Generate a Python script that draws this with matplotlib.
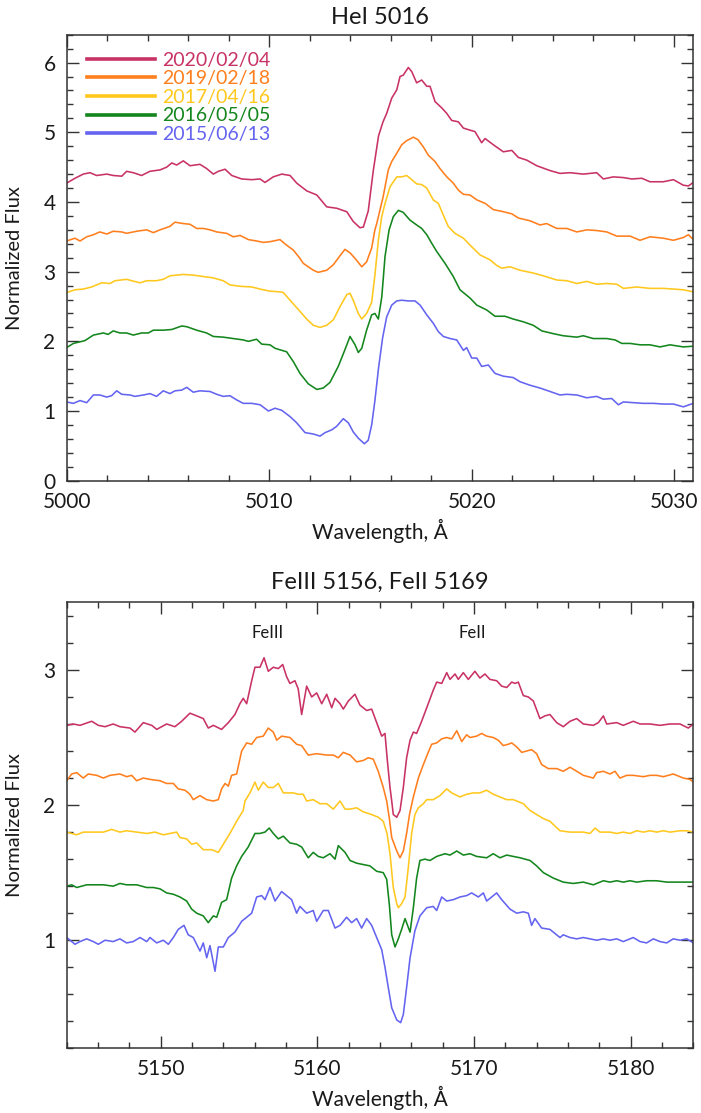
import matplotlib
matplotlib.use("Agg")
import matplotlib.pyplot as plt
from matplotlib.ticker import MultipleLocator

# ---------------- Observation dates and colours ----------------
dates = ["2020/02/04", "2019/02/18", "2017/04/16", "2016/05/05", "2015/06/13"]
colors = ["#C83264", "#FF7F1E", "#FFC81E", "#14861E", "#6464F0"]

# ---------------- HeI 5016 profiles ----------------
he_wl_2020 = [5000.00, 5000.41, 5000.82, 5001.15, 5001.48, 5001.98, 5002.30, 5002.72, 5002.96, 5003.29,
              5003.70, 5004.11, 5004.61, 5004.94, 5005.19, 5005.43, 5005.76, 5006.09, 5006.58, 5006.91,
              5007.24, 5007.49, 5007.82, 5008.15, 5008.64, 5009.14, 5009.55, 5009.79, 5010.20, 5010.62,
              5011.03, 5011.36, 5011.85, 5012.35, 5012.84, 5013.33, 5013.83, 5014.15, 5014.48, 5014.65,
              5014.89, 5015.14, 5015.40, 5015.62, 5015.80, 5016.05, 5016.30, 5016.46, 5016.62, 5016.87,
              5017.04, 5017.28, 5017.53, 5017.78, 5017.94, 5018.19, 5018.52, 5018.77, 5019.01, 5019.34,
              5019.59, 5019.92, 5020.16, 5020.49, 5020.66, 5021.07, 5021.56, 5021.98, 5022.30, 5022.72,
              5023.21, 5023.87, 5024.36, 5024.85, 5025.51, 5026.17, 5026.50, 5026.99, 5027.49, 5027.90,
              5028.40, 5028.80, 5029.46, 5029.96, 5030.45, 5030.70, 5030.94]
he_fx_2020 = [4.27, 4.34, 4.40, 4.42, 4.38, 4.40, 4.38, 4.37, 4.44, 4.42,
              4.38, 4.44, 4.46, 4.50, 4.56, 4.53, 4.59, 4.52, 4.54, 4.48,
              4.40, 4.44, 4.47, 4.38, 4.33, 4.32, 4.33, 4.28, 4.36, 4.40,
              4.38, 4.27, 4.16, 4.10, 3.93, 3.91, 3.86, 3.72, 3.63, 3.64,
              3.87, 4.45, 4.95, 5.15, 5.27, 5.49, 5.61, 5.80, 5.82, 5.93,
              5.87, 5.71, 5.75, 5.66, 5.66, 5.44, 5.35, 5.27, 5.17, 5.15,
              5.06, 5.03, 5.01, 4.85, 4.91, 4.82, 4.72, 4.74, 4.64, 4.60,
              4.52, 4.45, 4.41, 4.42, 4.40, 4.42, 4.33, 4.36, 4.35, 4.33,
              4.34, 4.29, 4.29, 4.32, 4.24, 4.23, 4.28]

he_wl_2019 = [5000.00, 5000.41, 5000.66, 5000.99, 5001.32, 5001.64, 5001.98, 5002.30, 5002.72, 5002.96,
              5003.46, 5003.95, 5004.28, 5004.61, 5005.10, 5005.35, 5005.76, 5006.09, 5006.42, 5006.75,
              5007.08, 5007.41, 5007.90, 5008.23, 5008.56, 5008.97, 5009.38, 5009.71, 5010.04, 5010.53,
              5010.86, 5011.19, 5011.52, 5011.68, 5012.18, 5012.42, 5012.84, 5013.17, 5013.50, 5013.74,
              5013.99, 5014.24, 5014.57, 5014.81, 5015.06, 5015.22, 5015.31, 5015.63, 5015.88, 5016.05,
              5016.30, 5016.54, 5016.79, 5017.12, 5017.36, 5017.61, 5017.86, 5018.19, 5018.43, 5018.77,
              5019.09, 5019.34, 5019.59, 5019.92, 5020.25, 5020.66, 5021.07, 5021.56, 5021.98, 5022.30,
              5022.88, 5023.37, 5023.70, 5024.20, 5024.69, 5025.19, 5025.68, 5026.17, 5026.67, 5027.16,
              5027.82, 5028.31, 5028.80, 5029.46, 5029.96, 5030.45, 5030.70, 5030.94]
he_fx_2019 = [3.44, 3.48, 3.44, 3.50, 3.53, 3.57, 3.54, 3.58, 3.57, 3.55,
              3.58, 3.60, 3.56, 3.60, 3.65, 3.71, 3.69, 3.68, 3.62, 3.62,
              3.60, 3.57, 3.55, 3.50, 3.52, 3.46, 3.44, 3.42, 3.43, 3.46,
              3.38, 3.31, 3.19, 3.12, 3.02, 2.99, 3.02, 3.10, 3.23, 3.32,
              3.27, 3.19, 3.07, 3.14, 3.34, 3.60, 3.69, 4.08, 4.46, 4.58,
              4.70, 4.82, 4.88, 4.93, 4.89, 4.79, 4.67, 4.58, 4.48, 4.36,
              4.27, 4.17, 4.11, 4.10, 4.03, 3.98, 3.89, 3.86, 3.83, 3.77,
              3.73, 3.67, 3.69, 3.62, 3.62, 3.57, 3.60, 3.59, 3.57, 3.51,
              3.51, 3.45, 3.50, 3.48, 3.45, 3.49, 3.53, 3.46]

he_wl_2017 = [5000.00, 5000.41, 5000.82, 5001.23, 5001.73, 5002.14, 5002.39, 5002.96, 5003.21, 5003.62,
              5003.95, 5004.44, 5004.77, 5005.10, 5005.76, 5006.25, 5006.75, 5007.24, 5007.73, 5008.06,
              5008.56, 5009.14, 5009.55, 5010.04, 5010.53, 5010.70, 5011.03, 5011.52, 5011.85, 5012.18,
              5012.51, 5012.84, 5013.17, 5013.50, 5013.83, 5013.99, 5014.15, 5014.40, 5014.57, 5014.81,
              5015.06, 5015.22, 5015.39, 5015.55, 5015.72, 5015.97, 5016.30, 5016.54, 5016.79, 5017.04,
              5017.28, 5017.53, 5017.78, 5018.10, 5018.35, 5018.60, 5018.84, 5019.17, 5019.59, 5019.92,
              5020.41, 5020.90, 5021.23, 5021.48, 5021.89, 5022.39, 5022.72, 5023.04, 5023.54, 5024.20,
              5024.69, 5025.19, 5025.68, 5026.17, 5026.67, 5027.16, 5027.49, 5028.15, 5028.80, 5029.46,
              5029.96, 5030.45, 5030.94]
he_fx_2017 = [2.70, 2.74, 2.75, 2.78, 2.84, 2.83, 2.87, 2.89, 2.87, 2.84,
              2.87, 2.87, 2.89, 2.94, 2.96, 2.95, 2.93, 2.91, 2.87, 2.81,
              2.79, 2.78, 2.75, 2.72, 2.71, 2.70, 2.59, 2.43, 2.32, 2.23,
              2.20, 2.23, 2.31, 2.50, 2.67, 2.69, 2.59, 2.40, 2.32, 2.40,
              2.56, 2.95, 3.45, 3.78, 3.98, 4.22, 4.36, 4.36, 4.38, 4.32,
              4.26, 4.25, 4.20, 4.03, 3.98, 3.81, 3.65, 3.55, 3.48, 3.38,
              3.24, 3.17, 3.09, 3.05, 3.07, 3.02, 3.00, 2.98, 2.94, 2.88,
              2.87, 2.83, 2.86, 2.82, 2.83, 2.82, 2.76, 2.78, 2.76, 2.76,
              2.75, 2.74, 2.71]

he_wl_2016 = [5000.00, 5000.33, 5000.90, 5001.32, 5001.81, 5002.05, 5002.30, 5002.63, 5002.96, 5003.29,
              5003.70, 5004.03, 5004.28, 5004.77, 5005.19, 5005.68, 5005.93, 5006.42, 5006.91, 5007.24,
              5007.73, 5008.23, 5008.72, 5008.97, 5009.38, 5009.63, 5010.04, 5010.29, 5010.86, 5011.19,
              5011.52, 5011.93, 5012.35, 5012.67, 5013.00, 5013.41, 5013.74, 5013.99, 5014.24, 5014.40,
              5014.57, 5014.81, 5015.06, 5015.22, 5015.39, 5015.56, 5015.72, 5015.92, 5016.13, 5016.38,
              5016.62, 5016.95, 5017.28, 5017.53, 5017.78, 5018.02, 5018.27, 5018.68, 5019.09, 5019.42,
              5019.92, 5020.25, 5020.74, 5021.15, 5021.64, 5022.05, 5022.55, 5023.04, 5023.46, 5024.03,
              5024.52, 5025.19, 5025.51, 5026.00, 5026.67, 5027.08, 5027.41, 5027.82, 5028.31, 5028.80,
              5029.30, 5029.79, 5030.45, 5030.94]
he_fx_2016 = [1.91, 1.97, 2.01, 2.09, 2.12, 2.10, 2.15, 2.12, 2.12, 2.09,
              2.12, 2.12, 2.16, 2.16, 2.17, 2.22, 2.21, 2.16, 2.12, 2.07,
              2.06, 2.04, 2.02, 2.00, 2.03, 1.96, 1.95, 1.90, 1.85, 1.71,
              1.54, 1.39, 1.31, 1.33, 1.41, 1.64, 1.88, 2.07, 1.95, 1.84,
              1.90, 2.16, 2.38, 2.40, 2.32, 2.64, 3.22, 3.60, 3.79, 3.88,
              3.85, 3.74, 3.67, 3.62, 3.53, 3.41, 3.29, 3.12, 2.93, 2.74,
              2.62, 2.52, 2.45, 2.36, 2.36, 2.32, 2.28, 2.23, 2.15, 2.11,
              2.08, 2.06, 2.08, 2.04, 2.04, 2.02, 1.97, 1.97, 1.95, 1.95,
              1.92, 1.95, 1.92, 1.93]

he_wl_2015 = [5000.00, 5000.33, 5000.66, 5000.99, 5001.32, 5001.64, 5001.98, 5002.22, 5002.47, 5002.72,
              5003.13, 5003.37, 5003.79, 5004.11, 5004.44, 5004.77, 5005.10, 5005.35, 5005.68, 5005.93,
              5006.25, 5006.58, 5007.08, 5007.41, 5007.73, 5008.06, 5008.39, 5008.72, 5009.14, 5009.55,
              5009.96, 5010.29, 5010.62, 5011.03, 5011.36, 5011.77, 5012.18, 5012.51, 5012.76, 5013.09,
              5013.33, 5013.66, 5013.91, 5014.15, 5014.40, 5014.70, 5014.89, 5015.06, 5015.22, 5015.40,
              5015.60, 5015.80, 5016.05, 5016.30, 5016.54, 5016.87, 5017.20, 5017.45, 5017.78, 5018.10,
              5018.35, 5018.60, 5018.93, 5019.26, 5019.59, 5019.75, 5020.00, 5020.25, 5020.49, 5020.82,
              5021.15, 5021.56, 5022.05, 5022.39, 5022.88, 5023.37, 5023.87, 5024.36, 5024.69, 5025.19,
              5025.68, 5026.17, 5026.50, 5026.91, 5027.24, 5027.49, 5027.98, 5028.47, 5028.97, 5029.46,
              5029.96, 5030.45, 5030.94]
he_fx_2015 = [1.13, 1.11, 1.15, 1.12, 1.23, 1.23, 1.20, 1.22, 1.29, 1.24,
              1.23, 1.21, 1.23, 1.25, 1.21, 1.29, 1.25, 1.29, 1.30, 1.34,
              1.27, 1.29, 1.28, 1.24, 1.21, 1.22, 1.16, 1.11, 1.11, 1.09,
              1.00, 1.04, 1.01, 0.92, 0.83, 0.69, 0.67, 0.64, 0.69, 0.73,
              0.78, 0.89, 0.83, 0.70, 0.61, 0.53, 0.58, 0.80, 1.15, 1.62,
              2.05, 2.35, 2.52, 2.58, 2.59, 2.58, 2.58, 2.52, 2.38, 2.26,
              2.14, 2.07, 2.04, 2.02, 1.87, 1.91, 1.76, 1.76, 1.64, 1.66,
              1.54, 1.50, 1.48, 1.42, 1.37, 1.33, 1.28, 1.23, 1.24, 1.23,
              1.19, 1.21, 1.17, 1.18, 1.09, 1.13, 1.12, 1.11, 1.11, 1.10,
              1.10, 1.06, 1.11]

# ---------------- FeIII 5156 / FeII 5169 profiles ----------------
fe_wl_2020 = [5144.00, 5144.42, 5144.85, 5145.60, 5146.02, 5146.45, 5146.97, 5147.40, 5148.04, 5148.36,
              5148.89, 5149.43, 5149.75, 5150.38, 5150.91, 5151.34, 5151.87, 5152.30, 5152.72, 5153.04,
              5153.36, 5153.89, 5154.32, 5154.74, 5155.06, 5155.27, 5155.49, 5155.81, 5156.02, 5156.34,
              5156.60, 5156.87, 5157.19, 5157.51, 5157.79, 5158.04, 5158.25, 5158.57, 5158.78, 5159.00,
              5159.32, 5159.64, 5159.96, 5160.28, 5160.60, 5160.92, 5161.13, 5161.45, 5161.66, 5161.98,
              5162.40, 5162.72, 5163.15, 5163.47, 5163.79, 5164.11, 5164.32, 5164.47, 5164.64, 5164.75,
              5164.85, 5165.07, 5165.28, 5165.49, 5165.70, 5165.92, 5166.13, 5166.34, 5166.66, 5167.08,
              5167.40, 5167.62, 5167.94, 5168.26, 5168.47, 5168.79, 5169.00, 5169.32, 5169.64, 5170.06,
              5170.38, 5170.70, 5171.02, 5171.45, 5171.77, 5172.09, 5172.41, 5172.62, 5172.83, 5173.15,
              5173.47, 5173.79, 5174.21, 5174.53, 5174.85, 5175.28, 5175.70, 5176.13, 5176.56, 5176.98,
              5177.62, 5177.94, 5178.26, 5178.47, 5179.11, 5179.53, 5180.17, 5180.60, 5181.24, 5181.87,
              5182.51, 5183.15, 5183.68, 5184.00]
fe_fx_2020 = [2.59, 2.60, 2.59, 2.62, 2.59, 2.58, 2.60, 2.58, 2.57, 2.54,
              2.61, 2.59, 2.56, 2.60, 2.58, 2.62, 2.68, 2.66, 2.64, 2.57,
              2.59, 2.56, 2.61, 2.67, 2.75, 2.79, 2.75, 2.92, 3.02, 3.02,
              3.09, 2.99, 3.02, 3.01, 3.04, 2.95, 2.90, 2.92, 2.86, 2.67,
              2.88, 2.80, 2.83, 2.75, 2.82, 2.72, 2.79, 2.75, 2.71, 2.77,
              2.82, 2.74, 2.70, 2.71, 2.61, 2.51, 2.53, 2.33, 2.13, 2.03,
              1.93, 1.91, 1.96, 2.13, 2.35, 2.48, 2.54, 2.53, 2.62, 2.75,
              2.85, 2.91, 2.90, 2.98, 2.93, 2.97, 2.93, 2.98, 2.93, 2.99,
              2.94, 2.97, 2.93, 2.92, 2.88, 2.87, 2.91, 2.90, 2.91, 2.81,
              2.80, 2.77, 2.64, 2.66, 2.67, 2.61, 2.58, 2.62, 2.64, 2.60,
              2.59, 2.61, 2.66, 2.60, 2.61, 2.59, 2.62, 2.60, 2.60, 2.59,
              2.60, 2.60, 2.57, 2.60]

fe_wl_2019 = [5144.00, 5144.32, 5144.64, 5145.06, 5145.38, 5145.92, 5146.34, 5146.76, 5147.40, 5147.83,
              5148.15, 5148.47, 5148.89, 5149.32, 5149.96, 5150.38, 5150.81, 5151.12, 5151.55, 5151.87,
              5152.08, 5152.51, 5152.94, 5153.36, 5153.68, 5153.89, 5154.11, 5154.32, 5154.53, 5154.85,
              5155.17, 5155.49, 5155.81, 5156.13, 5156.55, 5156.87, 5157.19, 5157.41, 5157.72, 5158.25,
              5158.68, 5159.00, 5159.42, 5159.96, 5160.60, 5161.02, 5161.34, 5161.66, 5162.09, 5162.51,
              5162.93, 5163.25, 5163.57, 5163.89, 5164.21, 5164.43, 5164.60, 5164.75, 5165.07, 5165.28,
              5165.49, 5165.70, 5165.90, 5166.13, 5166.45, 5166.77, 5167.08, 5167.30, 5167.62, 5167.94,
              5168.26, 5168.58, 5168.90, 5169.22, 5169.53, 5169.75, 5170.17, 5170.49, 5170.81, 5171.23,
              5171.55, 5171.87, 5172.19, 5172.41, 5172.73, 5173.05, 5173.36, 5173.68, 5174.00, 5174.32,
              5174.74, 5175.28, 5175.70, 5176.13, 5176.56, 5176.98, 5177.62, 5177.83, 5178.26, 5178.68,
              5179.00, 5179.32, 5179.75, 5180.17, 5180.81, 5181.24, 5181.66, 5182.09, 5182.72, 5183.36,
              5183.79, 5184.00]
fe_fx_2019 = [2.18, 2.23, 2.24, 2.20, 2.23, 2.22, 2.20, 2.22, 2.23, 2.21,
              2.22, 2.18, 2.20, 2.19, 2.18, 2.16, 2.16, 2.12, 2.11, 2.08,
              2.04, 2.07, 2.04, 2.03, 2.04, 2.12, 2.16, 2.14, 2.22, 2.23,
              2.40, 2.46, 2.45, 2.50, 2.51, 2.57, 2.54, 2.48, 2.51, 2.50,
              2.45, 2.44, 2.37, 2.38, 2.37, 2.37, 2.35, 2.39, 2.37, 2.32,
              2.33, 2.35, 2.34, 2.25, 2.13, 2.03, 1.90, 1.76, 1.66, 1.61,
              1.66, 1.79, 1.94, 2.06, 2.20, 2.30, 2.39, 2.45, 2.46, 2.49,
              2.50, 2.49, 2.55, 2.47, 2.52, 2.50, 2.51, 2.53, 2.51, 2.50,
              2.48, 2.44, 2.45, 2.46, 2.43, 2.39, 2.40, 2.41, 2.38, 2.30,
              2.27, 2.27, 2.25, 2.28, 2.25, 2.22, 2.20, 2.24, 2.25, 2.23,
              2.25, 2.20, 2.22, 2.22, 2.21, 2.22, 2.22, 2.21, 2.23, 2.20,
              2.19, 2.17]

fe_wl_2017 = [5144.00, 5144.64, 5145.06, 5145.70, 5146.34, 5146.87, 5147.40, 5147.83, 5148.47, 5149.11,
              5149.64, 5150.17, 5150.59, 5151.02, 5151.23, 5151.66, 5151.98, 5152.30, 5152.72, 5153.26,
              5153.68, 5154.00, 5154.42, 5154.85, 5155.27, 5155.38, 5155.70, 5156.02, 5156.23, 5156.55,
              5156.87, 5157.19, 5157.51, 5157.83, 5158.15, 5158.47, 5158.78, 5159.10, 5159.32, 5159.74,
              5160.17, 5160.60, 5161.02, 5161.45, 5161.77, 5162.09, 5162.51, 5162.93, 5163.47, 5163.89,
              5164.21, 5164.45, 5164.64, 5164.85, 5165.07, 5165.17, 5165.38, 5165.60, 5165.81, 5166.02,
              5166.23, 5166.45, 5166.77, 5166.98, 5167.40, 5167.83, 5168.26, 5168.58, 5169.11, 5169.53,
              5169.96, 5170.38, 5170.81, 5171.23, 5171.66, 5172.09, 5172.51, 5173.15, 5173.58, 5174.00,
              5174.43, 5174.85, 5175.49, 5176.13, 5176.56, 5176.98, 5177.41, 5177.73, 5178.04, 5178.68,
              5179.11, 5179.53, 5179.96, 5180.39, 5180.81, 5181.24, 5181.66, 5182.09, 5182.51, 5183.15,
              5183.58, 5184.00]
fe_fx_2017 = [1.80, 1.78, 1.80, 1.80, 1.80, 1.82, 1.80, 1.81, 1.80, 1.79,
              1.80, 1.78, 1.79, 1.80, 1.76, 1.75, 1.71, 1.72, 1.67, 1.67,
              1.65, 1.71, 1.79, 1.88, 1.96, 2.03, 2.09, 2.17, 2.11, 2.17,
              2.13, 2.13, 2.16, 2.09, 2.09, 2.09, 2.08, 2.08, 2.03, 2.04,
              2.01, 2.01, 1.97, 2.03, 1.97, 1.97, 1.98, 1.95, 1.93, 1.91,
              1.88, 1.79, 1.64, 1.39, 1.27, 1.24, 1.27, 1.32, 1.54, 1.79,
              1.93, 1.98, 2.01, 2.04, 2.04, 2.07, 2.12, 2.09, 2.06, 2.08,
              2.09, 2.09, 2.11, 2.08, 2.06, 2.04, 2.04, 2.01, 1.96, 1.93,
              1.90, 1.88, 1.81, 1.80, 1.80, 1.80, 1.79, 1.83, 1.80, 1.80,
              1.79, 1.80, 1.79, 1.81, 1.80, 1.81, 1.80, 1.81, 1.80, 1.81,
              1.81, 1.80]

fe_wl_2016 = [5144.00, 5144.32, 5144.64, 5145.28, 5145.92, 5146.34, 5146.97, 5147.40, 5147.83, 5148.47,
              5149.11, 5149.53, 5149.96, 5150.38, 5150.81, 5151.23, 5151.66, 5151.98, 5152.30, 5152.72,
              5153.04, 5153.36, 5153.58, 5153.89, 5154.21, 5154.53, 5154.85, 5155.17, 5155.59, 5156.02,
              5156.34, 5156.66, 5156.93, 5157.19, 5157.51, 5157.83, 5158.25, 5158.68, 5159.00, 5159.42,
              5159.74, 5160.06, 5160.38, 5160.81, 5161.13, 5161.34, 5161.77, 5162.09, 5162.51, 5162.93,
              5163.36, 5163.79, 5164.21, 5164.43, 5164.60, 5164.75, 5164.96, 5165.17, 5165.38, 5165.60,
              5165.92, 5166.13, 5166.34, 5166.55, 5166.87, 5167.19, 5167.62, 5168.15, 5168.47, 5168.90,
              5169.32, 5169.75, 5170.17, 5170.81, 5171.23, 5171.66, 5172.09, 5172.51, 5172.94, 5173.58,
              5174.00, 5174.43, 5175.06, 5175.70, 5176.34, 5176.98, 5177.62, 5178.26, 5178.68, 5179.11,
              5179.53, 5179.96, 5180.39, 5181.02, 5181.66, 5182.30, 5182.94, 5183.58, 5184.00]
fe_fx_2016 = [1.40, 1.41, 1.39, 1.41, 1.41, 1.41, 1.40, 1.42, 1.41, 1.41,
              1.39, 1.39, 1.38, 1.35, 1.34, 1.32, 1.29, 1.23, 1.20, 1.18,
              1.13, 1.18, 1.17, 1.28, 1.30, 1.46, 1.55, 1.62, 1.69, 1.79,
              1.79, 1.80, 1.83, 1.79, 1.75, 1.77, 1.72, 1.71, 1.69, 1.61,
              1.65, 1.62, 1.61, 1.64, 1.60, 1.70, 1.65, 1.59, 1.57, 1.56,
              1.55, 1.51, 1.50, 1.45, 1.26, 1.04, 0.95, 1.01, 1.08, 1.16,
              1.06, 1.24, 1.46, 1.59, 1.60, 1.59, 1.62, 1.64, 1.63, 1.66,
              1.63, 1.64, 1.62, 1.61, 1.64, 1.61, 1.63, 1.62, 1.61, 1.59,
              1.55, 1.50, 1.46, 1.43, 1.42, 1.43, 1.41, 1.44, 1.43, 1.44,
              1.43, 1.44, 1.43, 1.44, 1.44, 1.43, 1.43, 1.43, 1.43]

fe_wl_2015 = [5144.00, 5144.32, 5144.53, 5144.85, 5145.28, 5145.70, 5146.02, 5146.45, 5146.97, 5147.40,
              5147.83, 5148.25, 5148.68, 5149.11, 5149.32, 5149.75, 5150.17, 5150.49, 5150.81, 5151.12,
              5151.49, 5151.76, 5152.08, 5152.51, 5152.72, 5152.94, 5153.15, 5153.47, 5153.68, 5154.00,
              5154.32, 5154.74, 5155.17, 5155.49, 5155.81, 5156.13, 5156.45, 5156.66, 5156.98, 5157.30,
              5157.72, 5158.04, 5158.36, 5158.68, 5158.89, 5159.32, 5159.74, 5159.96, 5160.38, 5160.70,
              5161.13, 5161.45, 5161.87, 5162.19, 5162.51, 5162.83, 5163.15, 5163.47, 5163.79, 5164.11,
              5164.32, 5164.53, 5164.75, 5165.07, 5165.32, 5165.49, 5165.70, 5165.92, 5166.23, 5166.55,
              5166.98, 5167.40, 5167.62, 5167.94, 5168.26, 5168.68, 5169.11, 5169.53, 5169.85, 5170.28,
              5170.60, 5170.81, 5171.13, 5171.45, 5171.77, 5172.30, 5172.73, 5173.15, 5173.47, 5173.68,
              5173.89, 5174.32, 5174.85, 5175.49, 5175.70, 5176.13, 5176.56, 5176.98, 5177.41, 5177.83,
              5178.26, 5178.68, 5179.11, 5179.53, 5180.17, 5180.60, 5181.02, 5181.45, 5181.87, 5182.30,
              5182.72, 5183.15, 5183.58, 5184.00]
fe_fx_2015 = [1.02, 0.99, 0.97, 0.99, 1.01, 0.99, 0.97, 1.00, 0.99, 1.01,
              0.98, 0.99, 1.02, 0.99, 1.02, 0.98, 1.00, 0.97, 1.02, 1.08,
              1.11, 1.04, 1.02, 0.92, 0.98, 0.87, 0.96, 0.77, 0.95, 0.95,
              1.02, 1.06, 1.14, 1.17, 1.20, 1.32, 1.33, 1.30, 1.39, 1.29,
              1.36, 1.33, 1.30, 1.20, 1.25, 1.20, 1.22, 1.14, 1.22, 1.22,
              1.09, 1.11, 1.17, 1.13, 1.16, 1.09, 1.16, 1.11, 1.02, 0.93,
              0.80, 0.65, 0.50, 0.41, 0.39, 0.45, 0.65, 0.87, 1.07, 1.18,
              1.24, 1.25, 1.22, 1.32, 1.29, 1.30, 1.32, 1.33, 1.35, 1.32,
              1.35, 1.29, 1.32, 1.35, 1.30, 1.23, 1.20, 1.21, 1.20, 1.11,
              1.16, 1.09, 1.08, 1.02, 1.04, 1.02, 1.01, 1.02, 1.01, 1.00,
              1.01, 1.00, 1.01, 0.99, 1.02, 0.99, 0.98, 1.01, 0.99, 0.98,
              1.01, 1.00, 1.01, 0.98]

# Line identifications in the lower panel: (label, wavelength, flux level)
fe_line_labels = ["FeIII", "FeII"]
fe_line_wl = [5156.85, 5169.87]
fe_line_y = [3.27, 3.27]

he_series = [(he_wl_2020, he_fx_2020), (he_wl_2019, he_fx_2019), (he_wl_2017, he_fx_2017),
             (he_wl_2016, he_fx_2016), (he_wl_2015, he_fx_2015)]
fe_series = [(fe_wl_2020, fe_fx_2020), (fe_wl_2019, fe_fx_2019), (fe_wl_2017, fe_fx_2017),
             (fe_wl_2016, fe_fx_2016), (fe_wl_2015, fe_fx_2015)]

plt.rcParams["font.family"] = ["Lato", "DejaVu Sans"]
plt.rcParams["font.weight"] = "normal"
TXT = "#1a1a1a"

fig = plt.figure(figsize=(7.01, 11.13), dpi=100)
ax1 = fig.add_axes([0.0951, 0.5681, 0.8939, 0.4007])
ax2 = fig.add_axes([0.0951, 0.0581, 0.8939, 0.4007])


def style_axis(ax):
    for sp in ax.spines.values():
        sp.set_linewidth(1.1)
        sp.set_color("#333333")
    ax.tick_params(which="both", direction="in", top=True, right=True,
                   width=1.0, color="#333333", labelsize=15, labelcolor=TXT, pad=8)
    ax.tick_params(which="major", length=8.5)
    ax.tick_params(which="minor", length=4.3)
    ax.set_ylabel("Normalized Flux", fontsize=14.5, color=TXT)
    ax.set_xlabel("Wavelength, Å", fontsize=15, color=TXT)
    ax.yaxis.set_label_coords(-0.07, 0.5)
    ax.xaxis.set_label_coords(0.5, -0.085)


# Upper panel: HeI 5016
for (wl, fx), c, lab in zip(he_series, colors, dates):
    ax1.plot(wl, fx, color=c, lw=1.15, label=lab)
ax1.set_xlim(5000, 5030.94)
ax1.set_ylim(0, 6.4)
ax1.xaxis.set_major_locator(MultipleLocator(10))
ax1.xaxis.set_minor_locator(MultipleLocator(2))
ax1.yaxis.set_major_locator(MultipleLocator(1))
ax1.yaxis.set_minor_locator(MultipleLocator(0.2))
style_axis(ax1)
ax1.set_title("HeI 5016", fontsize=17, color=TXT, pad=8)

leg = ax1.legend(loc="upper left", bbox_to_anchor=(0.032, 0.962), frameon=False,
                 fontsize=14, handlelength=3.5, handletextpad=0.4,
                 labelspacing=0.08, borderpad=0, borderaxespad=0,
                 labelcolor="linecolor")
for h in leg.get_lines():
    h.set_linewidth(2.6)

# Lower panel: FeIII 5156 and FeII 5169
for (wl, fx), c in zip(fe_series, colors):
    ax2.plot(wl, fx, color=c, lw=1.15)
ax2.set_xlim(5144, 5184)
ax2.set_ylim(0.2, 3.5)
ax2.xaxis.set_major_locator(MultipleLocator(10))
ax2.xaxis.set_minor_locator(MultipleLocator(2))
ax2.yaxis.set_major_locator(MultipleLocator(1))
ax2.yaxis.set_minor_locator(MultipleLocator(0.2))
style_axis(ax2)
ax2.set_title("FeIII 5156, FeII 5169", fontsize=17, color=TXT, pad=10)
for lab, x, y in zip(fe_line_labels, fe_line_wl, fe_line_y):
    ax2.text(x, y, lab, ha="center", va="center", fontsize=12, color=TXT)

fig.savefig("out.png", dpi=100)
